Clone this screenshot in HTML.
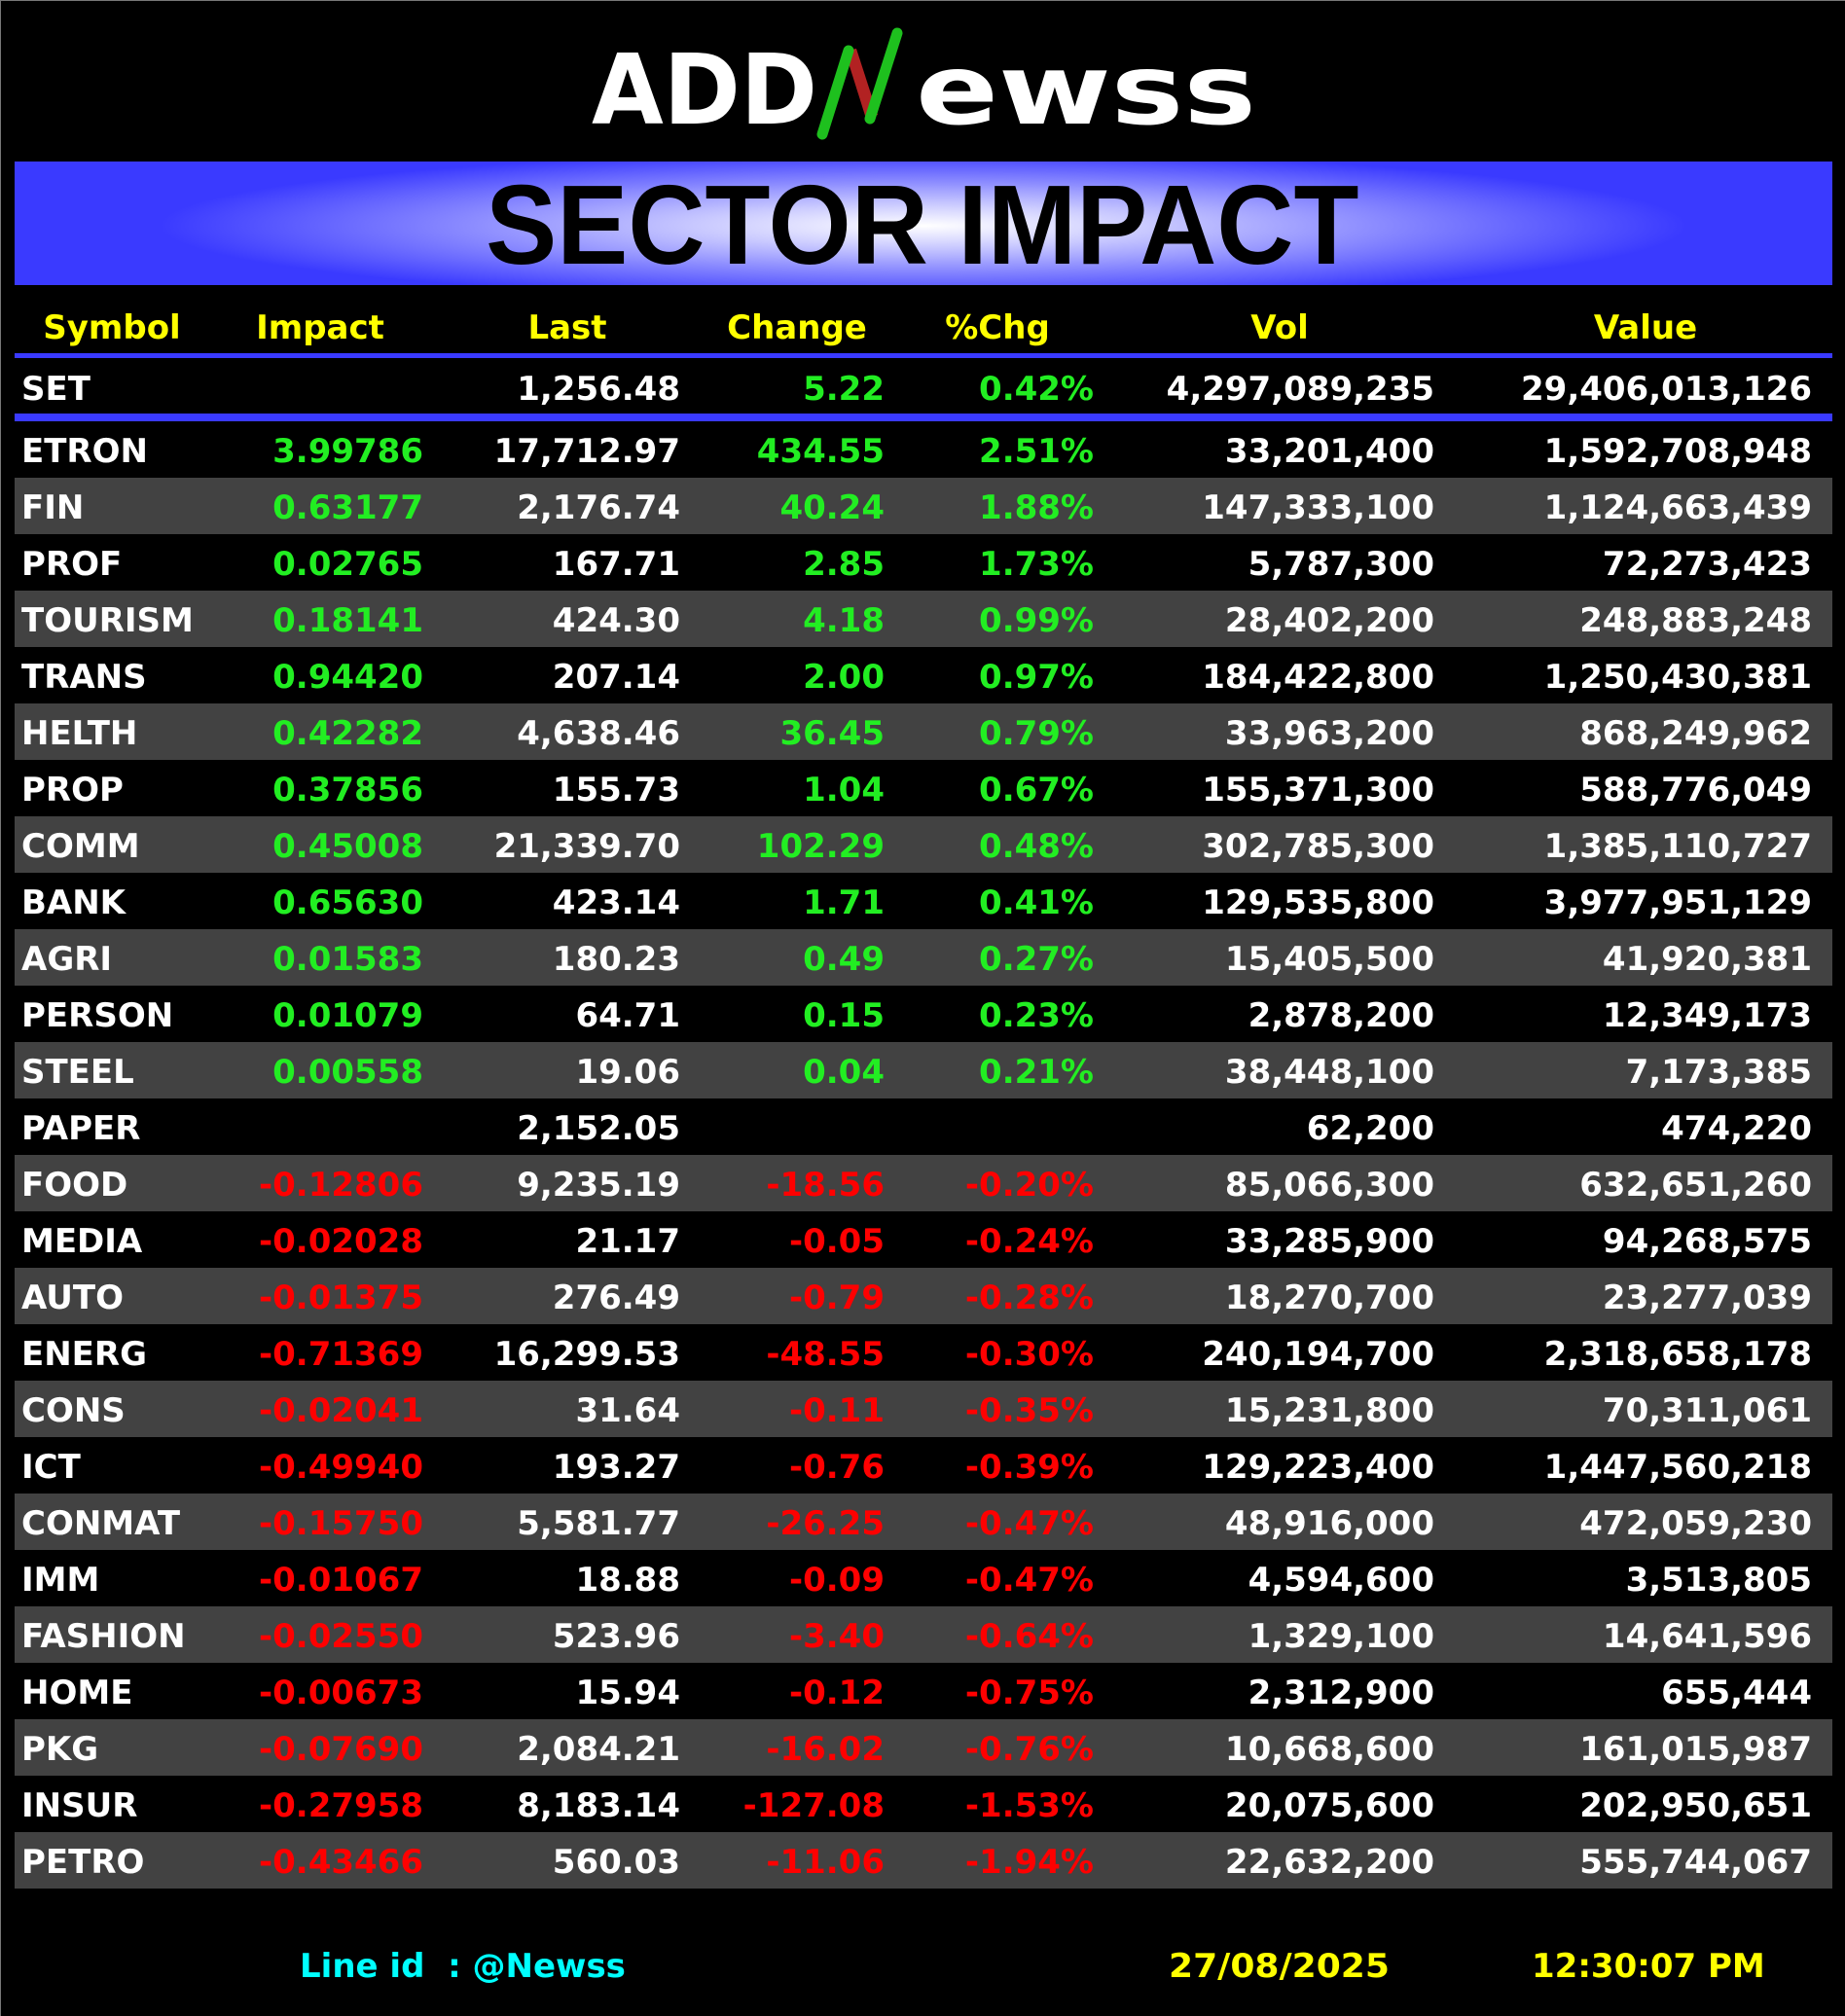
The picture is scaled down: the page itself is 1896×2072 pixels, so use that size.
<!DOCTYPE html>
<html><head><meta charset="utf-8">
<style>
html,body{margin:0;padding:0;background:#000;}
#page{position:relative;width:1896px;height:2072px;background:#000;overflow:hidden;font-family:"DejaVu Sans","Liberation Sans",sans-serif;font-weight:bold;box-shadow:inset 1px 1px 0 #777;}
.banner{position:absolute;left:15px;top:166px;width:1868px;height:127px;background:radial-gradient(ellipse 42% 60% at 50% 52%, #ffffff 0%, #c8c8ff 30%, #8080ff 65%, #3a3aff 100%);}
.title{position:absolute;left:0;width:1896px;top:168px;height:127px;line-height:127px;text-align:center;font-family:"Liberation Sans",sans-serif;font-size:116px;color:#000;}
.title span{display:inline-block;transform:scaleX(0.945);}
.hdr{position:absolute;top:313px;height:48px;line-height:48px;font-size:34px;color:#ffff00;text-align:center;width:240px;}
.bline{position:absolute;left:15px;width:1868px;background:#3a3aff;}
.row{position:absolute;left:15px;width:1868px;height:58px;}
.c{position:absolute;top:2px;line-height:58px;font-size:34px;color:#fff;white-space:nowrap;}
.r{text-align:right;}
.foot{position:absolute;top:1997px;line-height:48px;font-size:34px;}
</style></head><body>
<div id="page">
<svg style="position:absolute;left:590px;top:25px" width="720" height="130" viewBox="590 25 720 130">
  <text x="608" y="127" font-family="DejaVu Sans, sans-serif" font-weight="bold" font-size="100" fill="#fff" textLength="232" lengthAdjust="spacingAndGlyphs">ADD</text>
  <polygon points="868,52 880,50 902,118 890,122" fill="#b22222"/>
  <line x1="845" y1="138" x2="872" y2="52" stroke="#1ec01e" stroke-width="11" stroke-linecap="round"/>
  <line x1="894" y1="122" x2="922" y2="34" stroke="#1ec01e" stroke-width="11" stroke-linecap="round"/>
  <text x="941" y="127" font-family="DejaVu Sans, sans-serif" font-weight="bold" font-size="100" fill="#fff" textLength="350" lengthAdjust="spacingAndGlyphs">ewss</text>
</svg>
<div class="banner"></div>
<div class="title"><span>SECTOR IMPACT</span></div>

<div class="hdr" style="left:-5px">Symbol</div>
<div class="hdr" style="left:209px">Impact</div>
<div class="hdr" style="left:463px">Last</div>
<div class="hdr" style="left:699px">Change</div>
<div class="hdr" style="left:905px">%Chg</div>
<div class="hdr" style="left:1195px">Vol</div>
<div class="hdr" style="left:1571px">Value</div>
<div class="bline" style="top:363px;height:5px"></div>

<div class="row" style="top:369px">
  <div class="c" style="left:7px">SET</div>
  <div class="c r" style="right:1184px">1,256.48</div>
  <div class="c r" style="right:974px;color:#22ee22">5.22</div>
  <div class="c r" style="right:759px;color:#22ee22">0.42%</div>
  <div class="c r" style="right:409px">4,297,089,235</div>
  <div class="c r" style="right:21px">29,406,013,126</div>
</div>
<div class="bline" style="top:425px;height:8px"></div>

<div id="rows"></div>

<div class="foot" style="left:308px;color:#00ffff">Line id&nbsp; : @Newss</div>
<div class="foot" style="left:1201px;color:#ffff00;transform:scaleX(1.06);transform-origin:left">27/08/2025</div>
<div class="foot" style="left:1574px;color:#ffff00">12:30:07 PM</div>
</div>
<script>
const symbols=["ETRON","FIN","PROF","TOURISM","TRANS","HELTH","PROP","COMM","BANK","AGRI","PERSON","STEEL","PAPER","FOOD","MEDIA","AUTO","ENERG","CONS","ICT","CONMAT","IMM","FASHION","HOME","PKG","INSUR","PETRO"];
const impact=["3.99786","0.63177","0.02765","0.18141","0.94420","0.42282","0.37856","0.45008","0.65630","0.01583","0.01079","0.00558","","-0.12806","-0.02028","-0.01375","-0.71369","-0.02041","-0.49940","-0.15750","-0.01067","-0.02550","-0.00673","-0.07690","-0.27958","-0.43466"];
const last=["17,712.97","2,176.74","167.71","424.30","207.14","4,638.46","155.73","21,339.70","423.14","180.23","64.71","19.06","2,152.05","9,235.19","21.17","276.49","16,299.53","31.64","193.27","5,581.77","18.88","523.96","15.94","2,084.21","8,183.14","560.03"];
const change=["434.55","40.24","2.85","4.18","2.00","36.45","1.04","102.29","1.71","0.49","0.15","0.04","","-18.56","-0.05","-0.79","-48.55","-0.11","-0.76","-26.25","-0.09","-3.40","-0.12","-16.02","-127.08","-11.06"];
const pct=["2.51%","1.88%","1.73%","0.99%","0.97%","0.79%","0.67%","0.48%","0.41%","0.27%","0.23%","0.21%","","-0.20%","-0.24%","-0.28%","-0.30%","-0.35%","-0.39%","-0.47%","-0.47%","-0.64%","-0.75%","-0.76%","-1.53%","-1.94%"];
const vol=["33,201,400","147,333,100","5,787,300","28,402,200","184,422,800","33,963,200","155,371,300","302,785,300","129,535,800","15,405,500","2,878,200","38,448,100","62,200","85,066,300","33,285,900","18,270,700","240,194,700","15,231,800","129,223,400","48,916,000","4,594,600","1,329,100","2,312,900","10,668,600","20,075,600","22,632,200"];
const value=["1,592,708,948","1,124,663,439","72,273,423","248,883,248","1,250,430,381","868,249,962","588,776,049","1,385,110,727","3,977,951,129","41,920,381","12,349,173","7,173,385","474,220","632,651,260","94,268,575","23,277,039","2,318,658,178","70,311,061","1,447,560,218","472,059,230","3,513,805","14,641,596","655,444","161,015,987","202,950,651","555,744,067"];
const host=document.getElementById('rows');
const col=v=>v===""?"#fff":(v.charAt(0)==="-"?"#ff0000":"#22ee22");
symbols.forEach((s,i)=>{
  const row=document.createElement('div');
  row.className='row';
  
  
  row.style.top=(433+i*58)+'px';
  row.style.background=i%2?'#424242':'#000';
  const cells=[["symbol",s,"left:7px","#fff",false],["impact",impact[i],"right:1448px",col(impact[i]),true],["last",last[i],"right:1184px","#fff",true],["change",change[i],"right:974px",col(change[i]),true],["pctchg",pct[i],"right:759px",col(pct[i]),true],["vol",vol[i],"right:409px","#fff",true],["value",value[i],"right:21px","#fff",true]];
  cells.forEach(c=>{
    const d=document.createElement('div');
    d.className='c'+(c[4]?' r':'');
    
    
    d.style.cssText+=c[2]+';color:'+c[3];
    d.textContent=c[1];
    row.appendChild(d);
  });
  host.appendChild(row);
});
</script>
</body></html>
